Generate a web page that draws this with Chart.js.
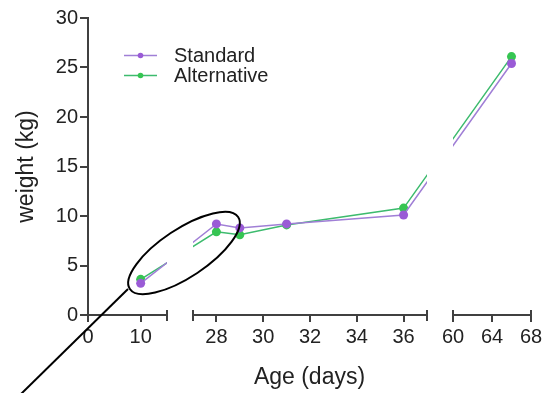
<!DOCTYPE html>
<html>
<head>
<meta charset="utf-8">
<script src="https://cdn.jsdelivr.net/npm/chart.js@4/dist/chart.umd.min.js"></script>
<style>
  body { margin: 0; background: #fff; }
  canvas { display: block; }
</style>
</head>
<body>
<canvas id="myChart" width="547" height="393"></canvas>
<script>
// Data
const days = [10, 28, 29, 31, 36, 66];
const standard = [3.2, 9.2, 8.8, 9.2, 10.1, 25.4];
const alternative = [3.6, 8.4, 8.1, 9.1, 10.8, 26.1];
const tickDays = [0, 10, 28, 30, 32, 34, 36, 60, 64, 68];
const tickLabels = ['0', '10', '28', '30', '32', '34', '36', '60', '64', '68'];

// Broken x axis: each piece of the axis gets its own length (px-like units)
const segments = [
    {from: 0, to: 15, len: 79},
    {from: 27, to: 37, len: 234},
    {from: 60, to: 68, len: 78}
];
const gap = 26;
const axisLen = segments.reduce((s, g) => s + g.len, 0) + gap * (segments.length - 1);

function segStart(i) {
    let off = 0;
    for (let k = 0; k < i; k++) off += segments[k].len + gap;
    return off;
}
function toV(d) {
    for (let i = 0; i < segments.length; i++) {
        const g = segments[i];
        if (d >= g.from && d <= g.to) {
            return segStart(i) + (d - g.from) / (g.to - g.from) * g.len;
        }
    }
    return null;
}

const axisColor = '#404040';
const font = 'Liberation Sans, Arial, Helvetica, sans-serif';

// keep lines inside the axis pieces (gaps at the breaks)
const clipPlugin = {
    id: 'clipSegments',
    beforeDatasetsDraw(chart) {
        const ctx = chart.ctx, xs = chart.scales.x;
        ctx.save();
        ctx.beginPath();
        segments.forEach((g, i) => {
            const x0 = xs.getPixelForValue(segStart(i));
            const x1 = xs.getPixelForValue(segStart(i) + g.len);
            ctx.rect(x0, 0, x1 - x0, chart.height);
        });
        ctx.clip();
    },
    afterDatasetsDraw(chart) {
        chart.ctx.restore();
    }
};

// x axis line pieces with end caps
const brokenAxis = {
    id: 'brokenAxis',
    afterDraw(chart) {
        const ctx = chart.ctx, xs = chart.scales.x;
        const y = chart.chartArea.bottom;
        ctx.save();
        ctx.strokeStyle = axisColor;
        ctx.lineWidth = 2;
        segments.forEach((g, i) => {
            const x0 = xs.getPixelForValue(segStart(i));
            const x1 = xs.getPixelForValue(segStart(i) + g.len);
            ctx.beginPath();
            ctx.moveTo(x0, y);
            ctx.lineTo(x1, y);
            if (i > 0) {
                ctx.moveTo(x0, y - 5);
                ctx.lineTo(x0, y + 6);
            }
            ctx.moveTo(x1, y - 5);
            ctx.lineTo(x1, y + 6);
            ctx.stroke();
        });
        ctx.restore();
    }
};

// legend in the upper left of the plot
const legendPlugin = {
    id: 'insideLegend',
    afterDraw(chart) {
        const ctx = chart.ctx;
        ctx.save();
        chart.data.datasets.forEach((ds, i) => {
            const y = 55.5 + i * 20;
            ctx.strokeStyle = ds.borderColor;
            ctx.lineWidth = 1.5;
            ctx.beginPath();
            ctx.moveTo(124, y);
            ctx.lineTo(157, y);
            ctx.stroke();
            ctx.fillStyle = ds.pointBackgroundColor;
            ctx.beginPath();
            ctx.arc(140.5, y, 2.8, 0, Math.PI * 2);
            ctx.fill();
            ctx.fillStyle = '#222';
            ctx.font = '20px ' + font;
            ctx.textBaseline = 'middle';
            ctx.fillText(ds.label, 174, y + 1);
        });
        ctx.restore();
    }
};

// hand drawn ellipse and pointer line
const markup = {
    id: 'markup',
    afterDraw(chart) {
        const ctx = chart.ctx;
        ctx.save();
        ctx.strokeStyle = '#000';
        ctx.lineWidth = 2;
        ctx.beginPath();
        ctx.ellipse(184, 253, 65, 24, -33.6 * Math.PI / 180, 0, Math.PI * 2);
        ctx.stroke();
        ctx.beginPath();
        ctx.moveTo(21, 394);
        ctx.lineTo(128, 289);
        ctx.stroke();
        ctx.restore();
    }
};

const ctx = document.getElementById('myChart').getContext('2d');
const myChart = new Chart(ctx, {
    type: 'line',
    data: {
        datasets: [{
            label: 'Standard',
            data: days.map((d, i) => ({x: toV(d), y: standard[i]})),
            borderColor: '#a07fd6',
            pointBackgroundColor: '#9a5bd6',
            pointBorderWidth: 0,
            pointRadius: 4.5,
            borderWidth: 1.5,
            tension: 0
        }, {
            label: 'Alternative',
            data: days.map((d, i) => ({x: toV(d), y: alternative[i]})),
            borderColor: '#3dbb6e',
            pointBackgroundColor: '#36c552',
            pointBorderWidth: 0,
            pointRadius: 4.5,
            borderWidth: 1.5,
            tension: 0
        }]
    },
    options: {
        responsive: false,
        animation: false,
        devicePixelRatio: 1,
        layout: {padding: {top: 18, right: 16, left: 0, bottom: 0}},
        plugins: {
            legend: {display: false},
            tooltip: {enabled: false}
        },
        scales: {
            x: {
                type: 'linear',
                min: 0,
                max: axisLen,
                afterBuildTicks(scale) {
                    scale.ticks = tickDays.map(d => ({value: toV(d)}));
                },
                afterFit(scale) { scale.height = 78; },
                ticks: {
                    autoSkip: false,
                    maxRotation: 0,
                    padding: 3,
                    color: '#222',
                    font: {family: font, size: 20},
                    callback: (v, i) => tickLabels[i]
                },
                grid: {drawOnChartArea: false, tickLength: 7, color: axisColor, lineWidth: 2},
                border: {display: false},
                title: {
                    display: true,
                    text: 'Age (days)',
                    color: '#222',
                    font: {family: font, size: 23},
                    padding: {top: 0, bottom: 2}
                }
            },
            y: {
                min: 0,
                max: 30,
                afterFit(scale) { scale.width = 88; },
                ticks: {
                    stepSize: 5,
                    padding: 2,
                    color: '#222',
                    font: {family: font, size: 20}
                },
                grid: {drawOnChartArea: false, tickLength: 8, color: axisColor, lineWidth: 2},
                border: {display: true, color: axisColor, width: 2},
                title: {
                    display: true,
                    text: 'weight (kg)',
                    color: '#222',
                    font: {family: font, size: 23},
                    padding: {top: 13, bottom: 0}
                }
            }
        }
    },
    plugins: [clipPlugin, brokenAxis, legendPlugin, markup]
});
</script>
</body>
</html>
